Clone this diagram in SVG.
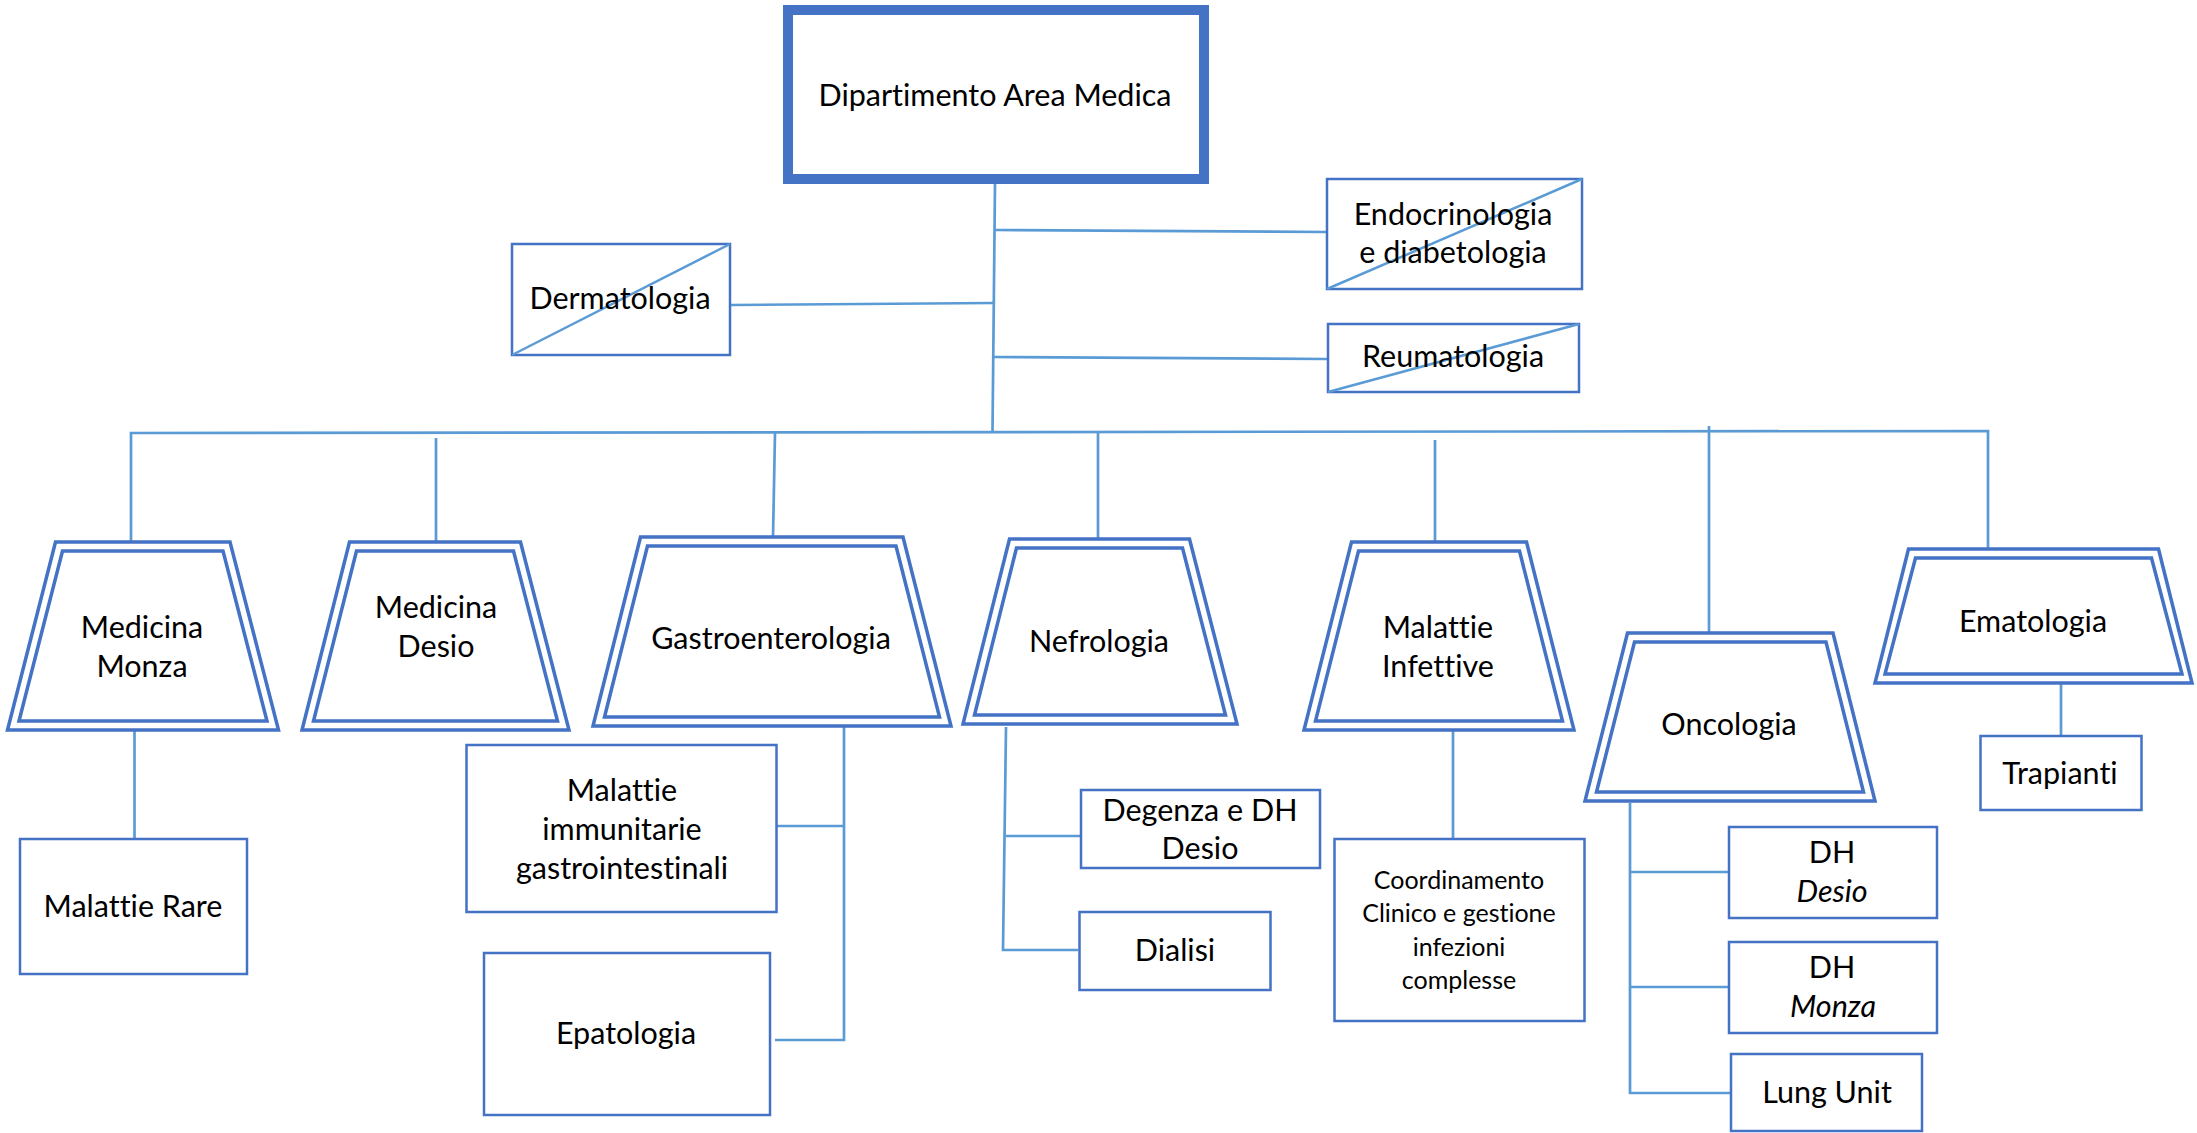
<svg xmlns="http://www.w3.org/2000/svg" width="2197" height="1133" viewBox="0 0 2197 1133">
<style>
.bg{fill:#ffffff}
.box{fill:#ffffff;stroke:#4472C4;stroke-width:2.5}
.main{fill:#ffffff;stroke:#4472C4;stroke-width:10}
.trap{fill:#ffffff;stroke:#4472C4;stroke-width:3.5;stroke-linejoin:miter}
.trapi{fill:none;stroke:#4472C4;stroke-width:3.5;stroke-linejoin:miter}
.diag{stroke:#5B9BD5;stroke-width:2.5}
.con{fill:none;stroke:#5B9BD5;stroke-width:2.7}
text{font-family:Lato,"Liberation Sans",sans-serif;font-size:30.5px;fill:#000000;text-anchor:middle;font-variant-ligatures:none;font-feature-settings:"liga" 0}
.sm{font-size:25px}
.it{font-style:italic}
</style>
<rect class="bg" x="0" y="0" width="2197" height="1133"/>
<g id="connectors">
<line class="con" x1="995" y1="184" x2="992.5" y2="432"/>
<line class="con" x1="995" y1="230" x2="1326" y2="232"/>
<line class="con" x1="731" y1="305" x2="994" y2="303"/>
<line class="con" x1="994" y1="357" x2="1327" y2="359"/>
<polyline class="con" points="131,542 131,433 1988,431 1988,548"/>
<line class="con" x1="436" y1="438" x2="436" y2="544"/>
<line class="con" x1="775" y1="433" x2="773" y2="538"/>
<line class="con" x1="1098" y1="433" x2="1098" y2="538"/>
<line class="con" x1="1435" y1="440" x2="1435" y2="543"/>
<line class="con" x1="1709" y1="426" x2="1709" y2="633"/>
<line class="con" x1="134.5" y1="726" x2="134.5" y2="838"/>
<polyline class="con" points="844,720 844,1040 775,1040"/>
<line class="con" x1="775" y1="826" x2="844" y2="826"/>
<polyline class="con" points="1006,727 1003,950 1078,950"/>
<line class="con" x1="1006" y1="836" x2="1080" y2="836"/>
<line class="con" x1="1453" y1="730" x2="1453" y2="838"/>
<polyline class="con" points="1630,803 1630,1093 1730,1093"/>
<line class="con" x1="1630" y1="872" x2="1728" y2="872"/>
<line class="con" x1="1630" y1="987" x2="1728" y2="987"/>
<line class="con" x1="2061" y1="683" x2="2061" y2="735"/>
</g>
<g id="node-dipartimento">
<rect class="main" x="788" y="10" width="416" height="169"/>
<text x="995" y="106">Dipartimento Area Medica</text>
</g>
<g id="node-dermatologia">
<rect class="box" x="512" y="244" width="218" height="111"/>
<line class="diag" x1="512" y1="355" x2="730" y2="244"/>
<text x="620" y="309">Dermatologia</text>
</g>
<g id="node-endocrinologia">
<rect class="box" x="1327" y="179" width="255" height="110"/>
<line class="diag" x1="1327" y1="289" x2="1582" y2="179"/>
<text x="1453" y="225">Endocrinologia</text>
<text x="1453" y="263">e diabetologia</text>
</g>
<g id="node-reumatologia">
<rect class="box" x="1328" y="324" width="251" height="68"/>
<line class="diag" x1="1328" y1="392" x2="1579" y2="324"/>
<text x="1453" y="367">Reumatologia</text>
</g>
<g id="node-medicina-monza">
<path class="trap" d="M55.5,542 L230,542 L278.5,730 L7.5,730 Z"/>
<path class="trapi" d="M62.5,551 L223,551 L267,721 L19,721 Z"/>
<text x="142" y="638">Medicina</text>
<text x="142" y="677">Monza</text>
</g>
<g id="node-medicina-desio">
<path class="trap" d="M349.5,542 L520.5,542 L569,730 L302,730 Z"/>
<path class="trapi" d="M356.5,551 L513.5,551 L557.5,721 L313.5,721 Z"/>
<text x="436" y="618">Medicina</text>
<text x="436" y="657">Desio</text>
</g>
<g id="node-gastroenterologia">
<path class="trap" d="M640.5,537 L903,537 L951,726 L593,726 Z"/>
<path class="trapi" d="M647.5,546 L896,546 L939.5,717 L604.5,717 Z"/>
<text x="771" y="649">Gastroenterologia</text>
</g>
<g id="node-nefrologia">
<path class="trap" d="M1009.5,539 L1189.5,539 L1237,724 L963,724 Z"/>
<path class="trapi" d="M1016.5,548 L1182.5,548 L1225.5,715 L974.5,715 Z"/>
<text x="1099" y="652">Nefrologia</text>
</g>
<g id="node-malattie-infettive">
<path class="trap" d="M1351.5,542 L1526.5,542 L1574,730 L1304,730 Z"/>
<path class="trapi" d="M1358.5,551 L1519.5,551 L1562.5,721 L1315.5,721 Z"/>
<text x="1438" y="638">Malattie</text>
<text x="1438" y="677">Infettive</text>
</g>
<g id="node-oncologia">
<path class="trap" d="M1627.5,633 L1833,633 L1875,801 L1585,801 Z"/>
<path class="trapi" d="M1634.5,642 L1826,642 L1863.5,792 L1596.5,792 Z"/>
<text x="1729" y="735">Oncologia</text>
</g>
<g id="node-ematologia">
<path class="trap" d="M1908.5,549 L2158.5,549 L2192,683 L1875,683 Z"/>
<path class="trapi" d="M1915.5,558 L2151.5,558 L2182,674 L1885,674 Z"/>
<text x="2033" y="632">Ematologia</text>
</g>
<g id="node-malattie-rare">
<rect class="box" x="20" y="839" width="227" height="135"/>
<text x="133" y="917">Malattie Rare</text>
</g>
<g id="node-malattie-immunitarie">
<rect class="box" x="466.5" y="745" width="310" height="167"/>
<text x="622" y="801">Malattie</text>
<text x="622" y="840">immunitarie</text>
<text x="622" y="879">gastrointestinali</text>
</g>
<g id="node-epatologia">
<rect class="box" x="484" y="953" width="286" height="162"/>
<text x="626" y="1044">Epatologia</text>
</g>
<g id="node-degenza">
<rect class="box" x="1081" y="790" width="239" height="78"/>
<text x="1200" y="821">Degenza e DH</text>
<text x="1200" y="859">Desio</text>
</g>
<g id="node-dialisi">
<rect class="box" x="1079.5" y="912" width="191" height="78"/>
<text x="1175" y="961">Dialisi</text>
</g>
<g id="node-coordinamento">
<rect class="box" x="1334.5" y="839" width="250" height="182"/>
<text class="sm" x="1459" y="889">Coordinamento</text>
<text class="sm" x="1459" y="922">Clinico e gestione</text>
<text class="sm" x="1459" y="956">infezioni</text>
<text class="sm" x="1459" y="989">complesse</text>
</g>
<g id="node-trapianti">
<rect class="box" x="1980.5" y="736" width="161" height="74"/>
<text x="2060" y="784">Trapianti</text>
</g>
<g id="node-dh-desio">
<rect class="box" x="1729" y="827" width="208" height="91"/>
<text x="1832" y="863">DH</text>
<text class="it" x="1832" y="902">Desio</text>
</g>
<g id="node-dh-monza">
<rect class="box" x="1729" y="942" width="208" height="91"/>
<text x="1832" y="978">DH</text>
<text class="it" x="1833" y="1017">Monza</text>
</g>
<g id="node-lung-unit">
<rect class="box" x="1731" y="1054" width="191" height="77"/>
<text x="1827" y="1103">Lung Unit</text>
</g>
</svg>
